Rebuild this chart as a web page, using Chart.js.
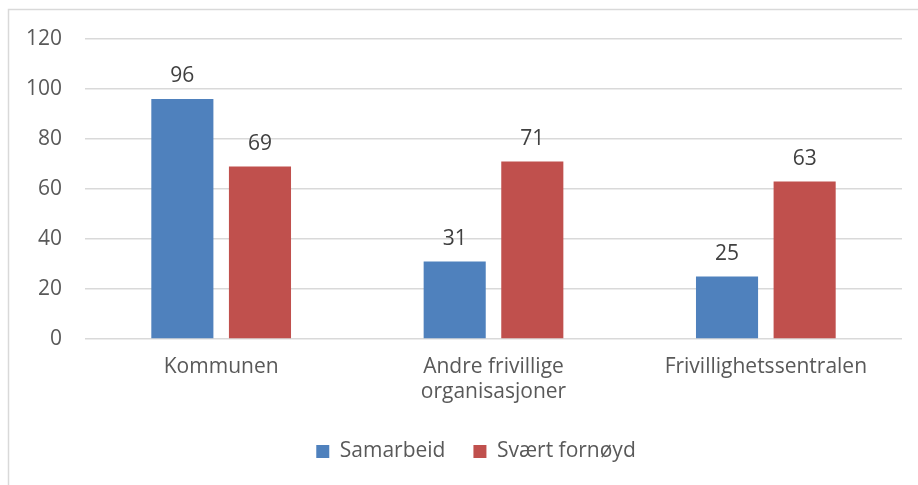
<!DOCTYPE html>
<html>
<head>
<meta charset="utf-8">
<script src="https://cdn.jsdelivr.net/npm/chart.js@4.4.1/dist/chart.umd.min.js"></script>
<style>
  html, body { margin: 0; padding: 0; background: #ffffff; }
  #wrap { position: relative; width: 918px; height: 485px; }
</style>
</head>
<body>
<div id="wrap"><canvas id="c" width="918" height="485"></canvas></div>
<script>
const categories = ['Kommunen', ['Andre frivillige', 'organisasjoner'], 'Frivillighetssentralen'];
const seriesNames = ['Samarbeid', 'Svært fornøyd'];
const samarbeid = [96, 31, 25];
const sveertFornoyd = [69, 71, 63];
const yTicks = [0, 20, 40, 60, 80, 100, 120];

const FONT = '"Open Sans", "Liberation Sans", sans-serif';
const TEXT = '#595959';
const FS = 21;

const frame = {
  id: 'frame',
  beforeDraw(chart) {
    const ctx = chart.ctx;
    ctx.save();
    ctx.fillStyle = '#ffffff';
    ctx.fillRect(0, 0, chart.width, chart.height);
    ctx.strokeStyle = '#d9d9d9';
    ctx.lineWidth = 1.5;
    ctx.strokeRect(8.5, 9.5, 1000, 1000);
    ctx.restore();
  }
};

const legendShift = {
  id: 'legendShift',
  afterLayout(chart) {
    if (chart.legend) {
      chart.legend.left += 25;
      chart.legend.right += 25;
    }
  }
};

const valueLabels = {
  id: 'valueLabels',
  afterDatasetsDraw(chart) {
    const ctx = chart.ctx;
    ctx.save();
    ctx.font = FS + 'px ' + FONT;
    ctx.fillStyle = '#404040';
    ctx.textAlign = 'center';
    ctx.textBaseline = 'alphabetic';
    chart.data.datasets.forEach((ds, i) => {
      chart.getDatasetMeta(i).data.forEach((bar, j) => {
        ctx.fillText(String(ds.data[j]), bar.x, bar.y - 17);
      });
    });
    ctx.restore();
  }
};

new Chart(document.getElementById('c'), {
  type: 'bar',
  data: {
    labels: categories,
    datasets: [
      { label: seriesNames[0], data: samarbeid, backgroundColor: '#4F81BD' },
      { label: seriesNames[1], data: sveertFornoyd, backgroundColor: '#C0504D' }
    ]
  },
  options: {
    responsive: false,
    animation: false,
    devicePixelRatio: 1,
    layout: { padding: { top: 39, right: 16, bottom: 13, left: 0 } },
    datasets: { bar: { categoryPercentage: 0.57, barPercentage: 0.8 } },
    scales: {
      x: {
        grid: { display: false },
        border: { display: false },
        ticks: { color: TEXT, font: { family: FONT, size: FS }, padding: 7, maxRotation: 0, autoSkip: false },
        afterFit(scale) { scale.height = 74; }
      },
      y: {
        min: 0, max: 120,
        afterBuildTicks(scale) { scale.ticks = yTicks.map(v => ({ value: v })); },
        grid: { color: '#d9d9d9', lineWidth: 1.5, drawTicks: false },
        border: { display: false },
        ticks: { color: TEXT, font: { family: FONT, size: FS }, padding: 23 },
        afterFit(scale) { scale.width = 85; }
      }
    },
    plugins: {
      legend: {
        position: 'bottom',
        labels: { color: TEXT, font: { family: FONT, size: FS }, boxWidth: 13, boxHeight: 13, padding: 28 }
      },
      tooltip: { enabled: false }
    }
  },
  plugins: [frame, legendShift, valueLabels]
});
</script>
</body>
</html>
